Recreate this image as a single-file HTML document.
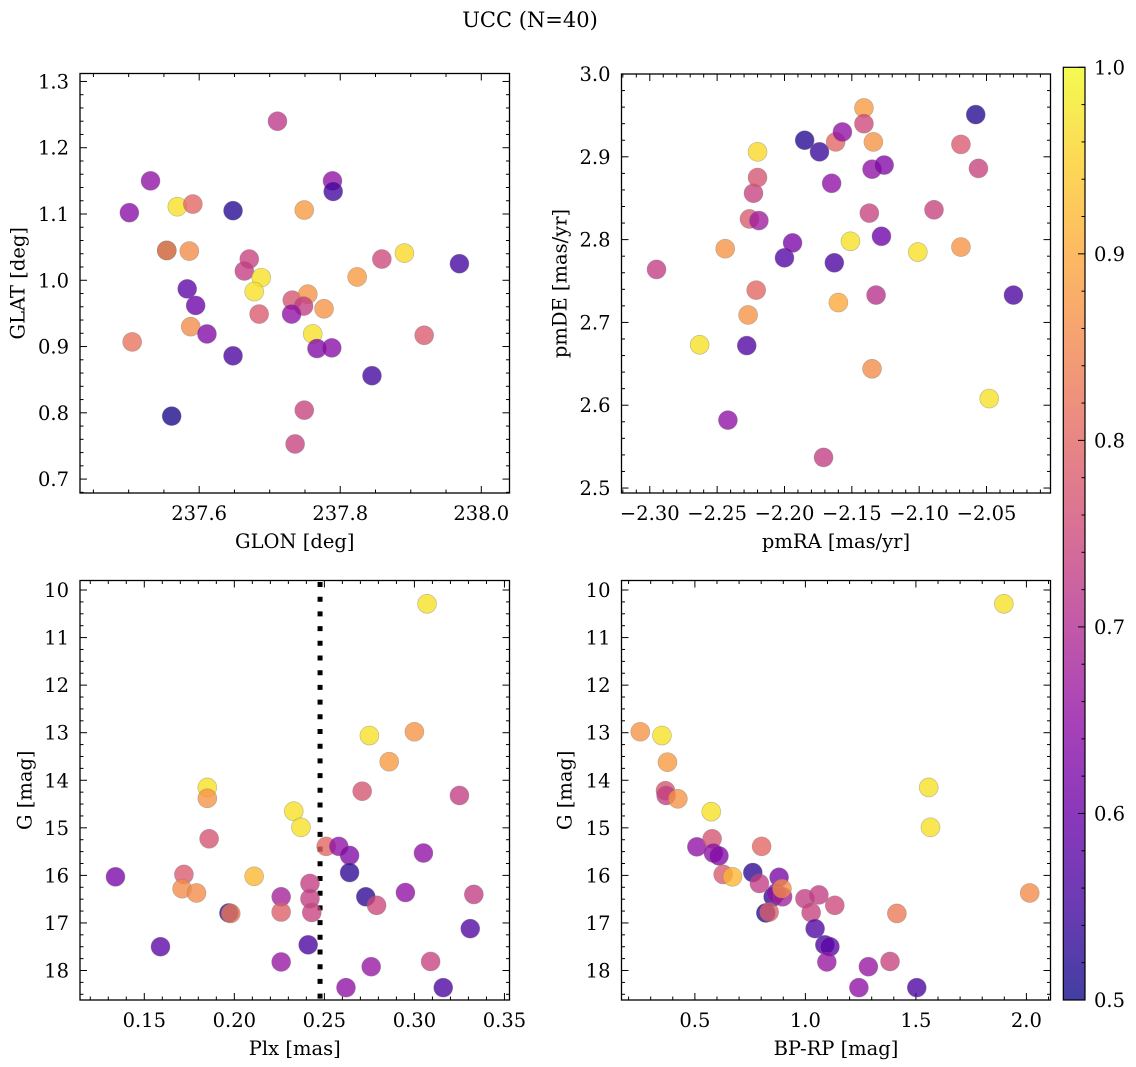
<!DOCTYPE html>
<html><head><meta charset="utf-8"><title>UCC (N=40)</title>
<style>
html,body{margin:0;padding:0;background:#fff;}
svg{display:block;font-family:"DejaVu Serif","Liberation Serif",serif;}
</style></head>
<body>
<svg id="fig" width="1136" height="1067" viewBox="0 0 1136 1067" xmlns="http://www.w3.org/2000/svg">
<defs>
<linearGradient id="plasma" x1="0" y1="1" x2="0" y2="0">
<stop offset="0" stop-color="#0d0887"/><stop offset="0.1" stop-color="#41049d"/><stop offset="0.2" stop-color="#6a00a8"/><stop offset="0.3" stop-color="#8f0da4"/><stop offset="0.4" stop-color="#b12a90"/><stop offset="0.5" stop-color="#cc4778"/><stop offset="0.6" stop-color="#e16462"/><stop offset="0.7" stop-color="#f2844b"/><stop offset="0.8" stop-color="#fca636"/><stop offset="0.9" stop-color="#fcce25"/><stop offset="1" stop-color="#f0f921"/>
</linearGradient>
</defs>
<text x="530" y="27" font-size="21" text-anchor="middle">UCC (N=40)</text>
</svg>
<script>
// ---------- data ----------
const p1Glon=[237.501,237.531,237.569,237.591,237.648,237.554,237.554,237.586,237.505,237.561,237.583,237.595,237.588,237.611,237.648,237.711,237.749,237.789,237.790,237.671,237.664,237.688,237.678,237.685,237.732,237.754,237.777,237.748,237.731,237.761,237.767,237.788,237.824,237.859,237.891,237.969,237.845,237.749,237.736,237.919];
const p1Glat=[1.102,1.150,1.111,1.115,1.105,1.045,1.045,1.044,0.907,0.795,0.987,0.962,0.930,0.919,0.886,1.240,1.106,1.150,1.134,1.032,1.014,1.004,0.983,0.949,0.970,0.979,0.957,0.961,0.949,0.919,0.897,0.898,1.005,1.032,1.041,1.025,0.856,0.804,0.753,0.917];
const p1Prob=[0.64,0.65,0.97,0.80,0.52,0.55,0.87,0.86,0.82,0.51,0.58,0.60,0.86,0.63,0.56,0.72,0.88,0.65,0.55,0.74,0.73,0.97,0.97,0.78,0.77,0.87,0.87,0.73,0.65,0.97,0.63,0.64,0.88,0.75,0.96,0.55,0.55,0.74,0.74,0.78];

const p2PmRA=[-2.295,-2.263,-2.244,-2.242,-2.228,-2.227,-2.221,-2.226,-2.219,-2.223,-2.220,-2.220,-2.200,-2.194,-2.185,-2.174,-2.171,-2.165,-2.163,-2.162,-2.157,-2.160,-2.151,-2.141,-2.141,-2.134,-2.135,-2.126,-2.137,-2.128,-2.132,-2.135,-2.101,-2.089,-2.069,-2.069,-2.056,-2.058,-2.048,-2.030];
const p2PmDE=[2.764,2.673,2.789,2.582,2.672,2.709,2.739,2.825,2.823,2.856,2.875,2.906,2.778,2.796,2.920,2.906,2.537,2.868,2.772,2.918,2.930,2.724,2.798,2.959,2.940,2.918,2.885,2.890,2.832,2.804,2.733,2.644,2.785,2.836,2.915,2.791,2.886,2.951,2.608,2.733];
const p2Prob=[0.73,0.97,0.87,0.65,0.57,0.87,0.80,0.78,0.67,0.74,0.77,0.96,0.57,0.62,0.52,0.54,0.73,0.65,0.56,0.80,0.65,0.90,0.97,0.88,0.75,0.87,0.65,0.63,0.74,0.60,0.71,0.86,0.97,0.74,0.78,0.87,0.74,0.52,0.97,0.56];

const p3Plx=[0.134,0.159,0.172,0.171,0.179,0.185,0.185,0.186,0.197,0.198,0.211,0.226,0.226,0.226,0.233,0.237,0.242,0.242,0.243,0.241,0.251,0.258,0.264,0.264,0.262,0.273,0.275,0.271,0.279,0.276,0.286,0.295,0.300,0.305,0.307,0.309,0.316,0.325,0.333,0.331];
const p3G=[16.03,17.50,15.98,16.28,16.37,14.15,14.38,15.23,16.79,16.80,16.02,16.45,16.77,17.82,14.65,14.99,16.17,16.49,16.78,17.46,15.39,15.39,15.58,15.94,18.36,16.45,13.06,14.23,16.63,17.92,13.61,16.36,12.98,15.53,10.29,17.81,18.36,14.32,16.40,17.12];
const p3Prob=[0.62,0.58,0.78,0.86,0.86,0.97,0.87,0.77,0.52,0.83,0.92,0.68,0.79,0.66,0.97,0.97,0.73,0.73,0.74,0.56,0.80,0.65,0.63,0.53,0.65,0.53,0.97,0.77,0.75,0.66,0.88,0.65,0.87,0.65,0.97,0.74,0.56,0.73,0.73,0.57];
const plxCut=[0.2476];

const p4BpRp=[0.253,0.351,0.376,0.367,0.370,0.423,0.574,0.509,0.578,0.584,0.609,0.628,0.670,0.762,0.802,0.792,0.881,0.854,0.868,0.897,0.894,0.821,0.836,0.998,1.061,1.026,1.133,1.044,1.088,1.111,1.097,1.285,1.383,1.242,1.504,1.414,1.558,1.566,1.898,2.015];
const p4G=[12.98,13.06,13.62,14.22,14.32,14.39,14.66,15.40,15.23,15.53,15.59,15.98,16.03,15.94,15.39,16.17,16.04,16.45,16.37,16.45,16.28,16.79,16.77,16.49,16.41,16.78,16.63,17.12,17.46,17.50,17.82,17.92,17.81,18.36,18.36,16.80,14.15,14.99,10.29,16.37];
const p4Prob=[0.87,0.97,0.88,0.77,0.73,0.87,0.97,0.65,0.77,0.65,0.63,0.78,0.92,0.53,0.80,0.73,0.62,0.53,0.65,0.68,0.86,0.52,0.79,0.73,0.73,0.74,0.75,0.57,0.56,0.58,0.66,0.66,0.74,0.65,0.56,0.83,0.97,0.97,0.97,0.86];

const p1XTicks=[237.6,237.8,238.0];
const p1YTicks=[0.7,0.8,0.9,1.0,1.1,1.2,1.3];
const p2XTicks=[-2.30,-2.25,-2.20,-2.15,-2.10,-2.05];
const p2YTicks=[2.5,2.6,2.7,2.8,2.9,3.0];
const p3XTicks=[0.15,0.20,0.25,0.30,0.35];
const gTicks=[10,11,12,13,14,15,16,17,18];
const p4XTicks=[0.5,1.0,1.5,2.0];
const cbTicks=[0.5,0.6,0.7,0.8,0.9,1.0];

// ---------- helpers ----------
const NS="http://www.w3.org/2000/svg";
const svg=document.getElementById('fig');
const FS=19.5;
function el(tag,attrs,parent){const e=document.createElementNS(NS,tag);for(const k in attrs)e.setAttribute(k,attrs[k]);(parent||svg).appendChild(e);return e;}
const stops=[[0,[13,8,135]],[0.1,[65,4,157]],[0.2,[106,0,168]],[0.3,[143,13,164]],[0.4,[177,42,144]],[0.5,[204,71,120]],[0.6,[225,100,98]],[0.7,[242,132,75]],[0.8,[252,166,54]],[0.9,[252,206,37]],[1,[240,249,33]]];
function plasma(p){let t=Math.max(0,Math.min(1,(p-0.5)/0.5));for(let i=0;i<stops.length-1;i++){const a=stops[i],b=stops[i+1];if(t<=b[0]){const f=(t-a[0])/(b[0]-a[0]);const c=a[1].map((v,j)=>Math.round(v+(b[1][j]-v)*f));return 'rgb('+c.join(',')+')';}}return 'rgb(240,249,33)';}
function fmt(v,d){return (v<0?'\u2212':'')+Math.abs(v).toFixed(d);}

function panel(name,box,dom,xTicks,xDec,xMinor,yTicks,yDec,yMinor,xLab,yLab,yLabX){
  const g=el('g',{});
  
  
  const sx=v=>box.x0+(v-dom.xa)/(dom.xb-dom.xa)*(box.x1-box.x0);
  const sy=v=>box.y0+(v-dom.ya)/(dom.yb-dom.ya)*(box.y1-box.y0);
  const tk=el('g',{stroke:'#000','stroke-width':1},g);
  
  
  const xlo=Math.min(dom.xa,dom.xb),xhi=Math.max(dom.xa,dom.xb);
  for(let v=Math.ceil(xlo/xMinor-1e-6)*xMinor;v<=xhi+1e-9;v+=xMinor){const x=sx(v);const isMaj=xTicks.some(t=>Math.abs(t-v)<xMinor/10);const L=isMaj?7:3.5;
    el('line',{x1:x,x2:x,y1:box.y1,y2:box.y1-L},tk);el('line',{x1:x,x2:x,y1:box.y0,y2:box.y0+L},tk);}
  const ylo=Math.min(dom.ya,dom.yb),yhi=Math.max(dom.ya,dom.yb);
  for(let v=Math.ceil(ylo/yMinor-1e-6)*yMinor;v<=yhi+1e-9;v+=yMinor){const y=sy(v);const isMaj=yTicks.some(t=>Math.abs(t-v)<yMinor/10);const L=isMaj?7:3.5;
    el('line',{x1:box.x0,x2:box.x0+L,y1:y,y2:y},tk);el('line',{x1:box.x1,x2:box.x1-L,y1:y,y2:y},tk);}
  xTicks.forEach(t=>{const tx=el('text',{x:sx(t),y:box.y1+27,'font-size':FS,'text-anchor':'middle'},g);tx.textContent=fmt(t,xDec);
    
    });
  yTicks.forEach(t=>{const tx=el('text',{x:box.x0-11,y:sy(t)+7,'font-size':FS,'text-anchor':'end'},g);tx.textContent=fmt(t,yDec);
    
    });
  const xl=el('text',{x:(box.x0+box.x1)/2,y:box.y1+55,'font-size':FS,'text-anchor':'middle'},g);xl.textContent=xLab;
  
  
  const cy=(box.y0+box.y1)/2;
  const yl=el('text',{x:yLabX,y:cy,'font-size':FS,'text-anchor':'middle','dominant-baseline':'central',transform:'rotate(-90 '+yLabX+' '+cy+')'},g);yl.textContent=yLab;
  
  
  const fr=el('rect',{x:box.x0,y:box.y0,width:box.x1-box.x0,height:box.y1-box.y0,fill:'none',stroke:'#000','stroke-width':1.3},g);
  
  
  return {g,sx,sy};
}
function scatter(ax,xs,ys,ps,name){
  const grp=el('g',{},ax.g);
  
  
  xs.forEach((x,i)=>{const c=el('circle',{cx:ax.sx(x),cy:ax.sy(ys[i]),r:9.5,fill:plasma(ps[i]),'fill-opacity':0.78,stroke:'#777','stroke-opacity':0.5,'stroke-width':0.6},grp);
    
    });
}

// Panel 1
const a1=panel('glon-glat-panel',{x0:80,x1:509.5,y0:73.5,y1:493},{xa:237.431,xb:238.040,ya:1.312,yb:0.679},p1XTicks,1,0.05,p1YTicks,1,0.02,'GLON [deg]','GLAT [deg]',18);
scatter(a1,p1Glon,p1Glat,p1Prob,'glon-glat-points');
// Panel 2
const a2=panel('pm-panel',{x0:621.5,x1:1050.5,y0:74,y1:493},{xa:-2.321,xb:-2.0025,ya:3.0,yb:2.494},p2XTicks,2,0.01,p2YTicks,1,0.02,'pmRA [mas/yr]','pmDE [mas/yr]',560);
scatter(a2,p2PmRA,p2PmDE,p2Prob,'pm-points');
// Panel 3
const a3=panel('plx-g-panel',{x0:80,x1:509.5,y0:580.5,y1:1000},{xa:0.1143,xb:0.3528,ya:9.80,yb:18.62},p3XTicks,2,0.01,gTicks,0,0.25,'Plx [mas]','G [mag]',25);
const cut=el('line',{x1:a3.sx(plxCut[0]),x2:a3.sx(plxCut[0]),y1:582,y2:1000,stroke:'#000','stroke-width':5,'stroke-dasharray':'5 9.7'},a3.g);


scatter(a3,p3Plx,p3G,p3Prob,'plx-g-points');
// Panel 4
const a4=panel('cmd-panel',{x0:621.5,x1:1050.5,y0:580.5,y1:1000},{xa:0.168,xb:2.109,ya:9.80,yb:18.62},p4XTicks,1,0.1,gTicks,0,0.25,'BP-RP [mag]','G [mag]',565);
scatter(a4,p4BpRp,p4G,p4Prob,'cmd-points');

// Colorbar
const cb=el('g',{});


const cbx0=1063.3,cbx1=1085,cby0=67.3,cby1=1000;
const cbs=v=>cby1-(v-0.5)/0.5*(cby1-cby0);
el('rect',{x:cbx0,y:cby0,width:cbx1-cbx0,height:cby1-cby0,fill:'url(#plasma)','fill-opacity':0.78},cb);
el('rect',{x:cbx0,y:cby0,width:cbx1-cbx0,height:cby1-cby0,fill:'none',stroke:'#000','stroke-width':1.2},cb);
for(let v=0.5;v<=1.0001;v+=0.02){const y=cbs(v);const maj=cbTicks.some(t=>Math.abs(t-v)<0.005);
  el('line',{x1:cbx1,x2:cbx1-(maj?7:3.5),y1:y,y2:y,stroke:'#000','stroke-width':1},cb);}
cbTicks.forEach(t=>{const tx=el('text',{x:1094,y:cbs(t)+7,'font-size':FS},cb);tx.textContent=t.toFixed(1);
  
  });
</script>
</body></html>
